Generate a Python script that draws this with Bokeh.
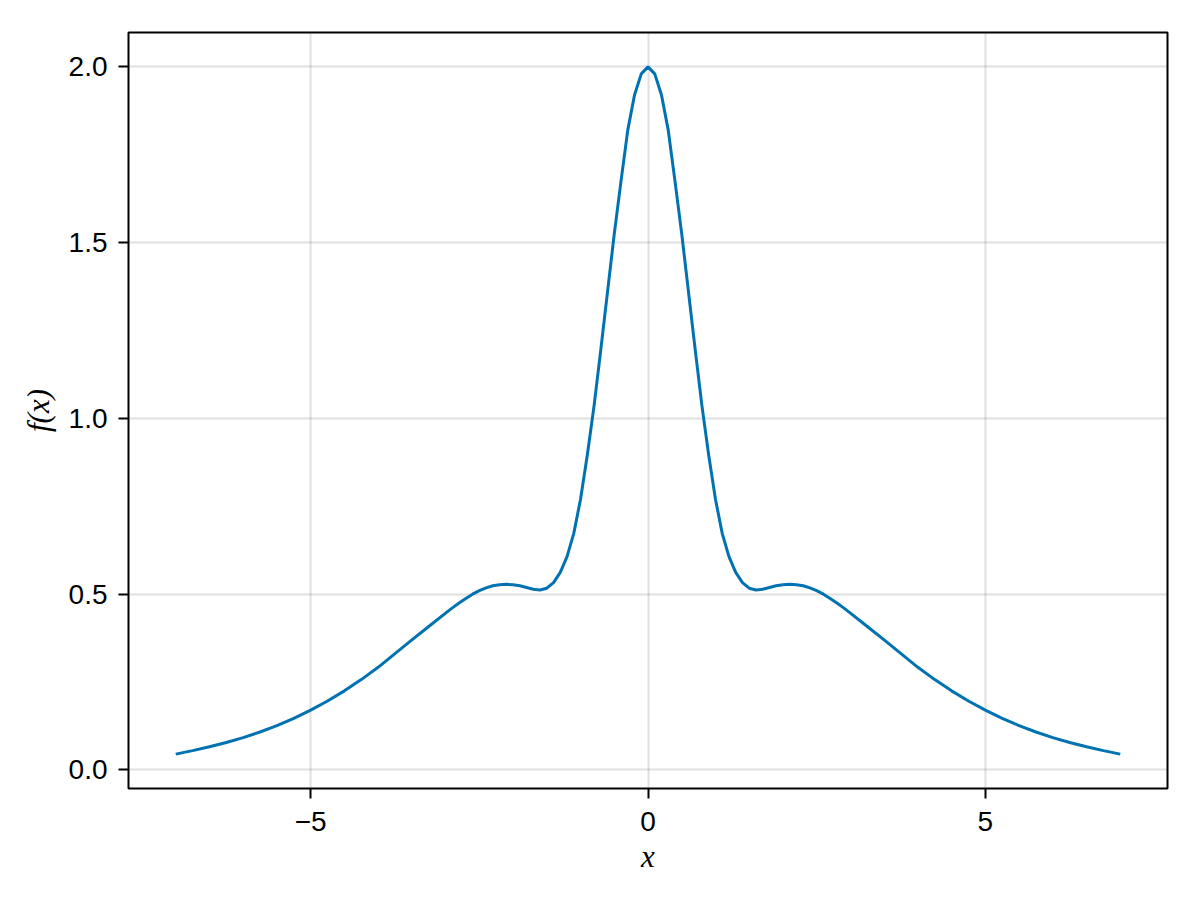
from bokeh.plotting import figure
from bokeh.models import Range1d, FixedTicker
from bokeh.embed import file_html
from bokeh.resources import INLINE

# ---- data ----
x_left = [-7.0, -6.75, -6.5, -6.25, -6.0, -5.75, -5.5, -5.25, -5.0, -4.75,
          -4.5, -4.25, -4.0, -3.75, -3.5, -3.25, -3.0, -2.9, -2.8, -2.7,
          -2.6, -2.5, -2.4, -2.3, -2.2, -2.1, -2.0, -1.9, -1.8, -1.7,
          -1.6, -1.5, -1.4, -1.3, -1.2, -1.1, -1.0, -0.9, -0.8, -0.7,
          -0.6, -0.5, -0.4, -0.3, -0.2, -0.1]
y_left = [0.045, 0.055, 0.066, 0.078, 0.092, 0.108, 0.126, 0.147, 0.170, 0.196,
          0.225, 0.257, 0.292, 0.331, 0.370, 0.408, 0.446, 0.461, 0.475, 0.488,
          0.500, 0.510, 0.518, 0.524, 0.527, 0.528, 0.527, 0.524, 0.519, 0.514,
          0.512, 0.517, 0.533, 0.562, 0.607, 0.673, 0.770, 0.895, 1.035, 1.195,
          1.360, 1.525, 1.675, 1.820, 1.920, 1.980]
x_mid = [0.0]
y_mid = [2.000]
x_right = [0.1, 0.2, 0.3, 0.4, 0.5, 0.6, 0.7, 0.8, 0.9, 1.0,
           1.1, 1.2, 1.3, 1.4, 1.5, 1.6, 1.7, 1.8, 1.9, 2.0,
           2.1, 2.2, 2.3, 2.4, 2.5, 2.6, 2.7, 2.8, 2.9, 3.0,
           3.25, 3.5, 3.75, 4.0, 4.25, 4.5, 4.75, 5.0, 5.25, 5.5,
           5.75, 6.0, 6.25, 6.5, 6.75, 7.0]
y_right = [1.980, 1.920, 1.820, 1.675, 1.525, 1.360, 1.195, 1.035, 0.895, 0.770,
           0.673, 0.607, 0.562, 0.533, 0.517, 0.512, 0.514, 0.519, 0.524, 0.527,
           0.528, 0.527, 0.524, 0.518, 0.510, 0.500, 0.488, 0.475, 0.461, 0.446,
           0.408, 0.370, 0.331, 0.292, 0.257, 0.225, 0.196, 0.170, 0.147, 0.126,
           0.108, 0.092, 0.078, 0.066, 0.055, 0.045]

x_ticks = [-5, 0, 5]
x_tick_labels = ["\u22125", "0", "5"]
y_ticks = [0.0, 0.5, 1.0, 1.5, 2.0]
y_tick_labels = ["0.0", "0.5", "1.0", "1.5", "2.0"]

xs = x_left + x_mid + x_right
ys = y_left + y_mid + y_right

# 5% padding like the reference
xmin, xmax = min(xs), max(xs)
ymin, ymax = min(ys), max(ys)
xpad = 0.05 * (xmax - xmin)
ypad = 0.05 * (ymax - ymin)

p = figure(
    output_backend="svg", toolbar_location=None,
    frame_width=1039, frame_height=756,
    min_border_left=128, min_border_right=33,
    min_border_top=32, min_border_bottom=112,
    x_range=Range1d(xmin - xpad, xmax + xpad),
    y_range=Range1d(ymin - ypad, ymax + ypad),
    background_fill_color="white", border_fill_color="white",
)

p.line(xs, ys, line_color="#0072B2", line_width=3)

p.outline_line_color = "black"
p.outline_line_width = 2
p.outline_line_alpha = 1.0

for ax in (p.xaxis[0], p.yaxis[0]):
    ax.axis_line_color = None
    ax.major_tick_line_color = "black"
    ax.major_tick_line_width = 2
    ax.major_tick_out = 10
    ax.major_tick_in = 0
    ax.minor_tick_line_color = None
    ax.major_label_text_font = "Liberation Sans"
    ax.major_label_text_font_size = "28px"
    ax.major_label_text_color = "black"
    ax.axis_label_text_font = "Liberation Serif"
    ax.axis_label_text_font_style = "italic"
    ax.axis_label_text_font_size = "31px"
    ax.axis_label_text_color = "black"

p.xaxis[0].ticker = FixedTicker(ticks=x_ticks)
p.xaxis[0].major_label_overrides = {t: l for t, l in zip(x_ticks, x_tick_labels)}
p.yaxis[0].ticker = FixedTicker(ticks=y_ticks)
p.yaxis[0].major_label_overrides = {t: l for t, l in zip(y_ticks, y_tick_labels)}
p.xaxis[0].major_label_standoff = 13
p.yaxis[0].major_label_standoff = 11
p.xaxis[0].axis_label = "x"
p.yaxis[0].axis_label = "f(x)"
p.xaxis[0].axis_label_standoff = 5
p.yaxis[0].axis_label_standoff = 10

p.xgrid[0].ticker = FixedTicker(ticks=x_ticks)
p.ygrid[0].ticker = FixedTicker(ticks=y_ticks)
p.grid.grid_line_color = "black"
p.grid.grid_line_alpha = 0.12
p.grid.grid_line_width = 2

open("out.html", "w").write(file_html(p, INLINE))
